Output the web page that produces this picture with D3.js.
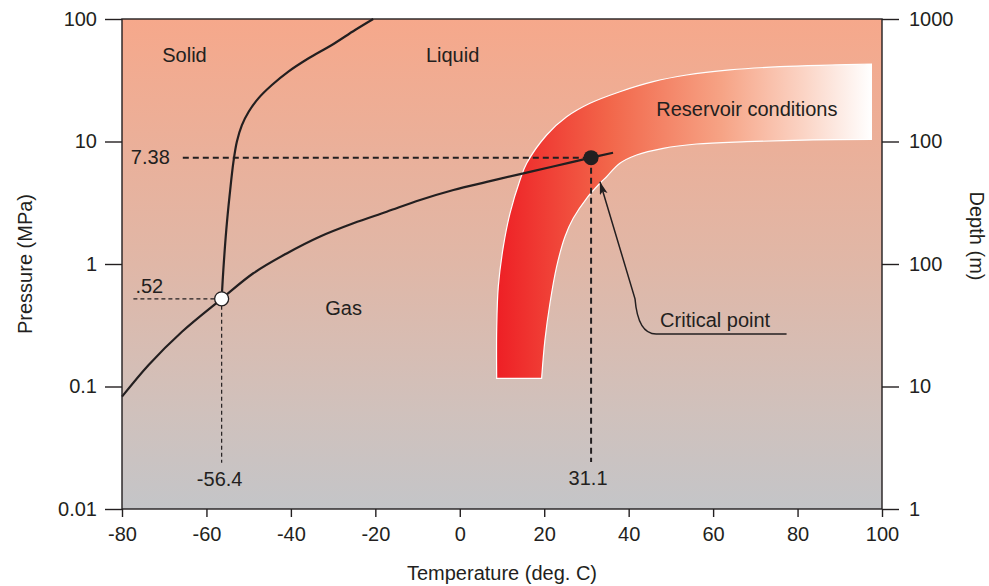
<!DOCTYPE html>
<html>
<head>
<meta charset="utf-8">
<script src="https://cdn.jsdelivr.net/npm/d3@7"></script>
<style>
  body { margin: 0; background: #fff; }
  text { font-family: "Liberation Sans", Arial, Helvetica, sans-serif; fill: #231f20; }
</style>
</head>
<body>
<svg id="chart" width="989" height="586"></svg>
<script>
// ---- data (temperature °C, pressure MPa) ----
const tempTicks = [-80, -60, -40, -20, 0, 20, 40, 60, 80, 100];
const pressureTicks = [0.01, 0.1, 1, 10, 100];
const pressureLabels = ['0.01', '0.1', '1', '10', '100'];
const depthLabels = ['1', '10', '100', '100', '1000'];

// solid/gas + liquid/gas boundary
const vaporCurve = [
  [-80, 0.0826], [-73.7, 0.150], [-65.8, 0.28], [-56.4, 0.52],
  [-48.9, 0.84], [-41.0, 1.22], [-33.2, 1.67], [-25.2, 2.15], [-17.3, 2.67],
  [-9.4, 3.33], [-1.5, 4.02], [6.4, 4.68], [14.3, 5.42], [22.1, 6.25],
  [31.1, 7.38], [36.3, 8.1]
];

// solid/liquid boundary
const meltingCurve = [
  [-56.4, 0.52], [-56.0, 0.893], [-55.3, 1.9], [-54.5, 3.66], [-53.6, 6.84],
  [-52.8, 9.96], [-51.6, 13.6], [-50.0, 17.5], [-47.7, 22.5], [-44.5, 28.9],
  [-40.6, 37.2], [-35.8, 47.8], [-30.3, 61.4], [-24.8, 81.3], [-20.5, 100]
];

// reservoir band: outer edge (bottom -> right), inner edge (right -> bottom)
const reservoirOuter = [
  [8.74, 0.1167], [8.74, 0.289], [9.12, 0.653], [10.31, 1.384], [11.89, 2.59],
  [14.26, 4.85], [15.85, 6.64], [20.58, 11.3], [25.31, 15.9], [30.83, 20.5],
  [37.92, 25.5], [45.8, 30.8], [53.71, 34.9], [63.95, 38.4], [75.79, 40.8],
  [87.62, 42.1], [97.49, 42.9]
];
const reservoirInner = [
  [97.49, 10.4], [83.67, 10.3], [67.91, 9.96], [56.08, 9.54], [48.17, 8.8],
  [41.88, 7.76], [37.92, 6.64], [34.78, 5.16], [33.19, 4.56], [30.05, 3.44],
  [26.87, 2.36], [24.91, 1.67], [22.94, 0.951], [21.36, 0.478], [20.17, 0.24],
  [19.39, 0.1167]
];

const triplePoint = { t: -56.4, p: 0.52, tLabel: '-56.4', pLabel: '.52' };
const criticalPoint = { t: 31.1, p: 7.38, tLabel: '31.1', pLabel: '7.38' };

const regionLabels = [
  { text: 'Solid', t: -65.2, p: 44.6 },
  { text: 'Liquid', t: -1.7, p: 44.6 },
  { text: 'Gas', t: -27.5, p: 0.384 },
  { text: 'Reservoir conditions', t: 68.0, p: 16.1 }
];

// leader from "Critical point" label to the arrow tip
const leader = {
  start: [77.4, 0.268], bendStart: [46.5, 0.268], corner: [42.2, 0.268],
  bendEnd: [41.5, 0.52], tip: [33.2, 4.7], label: 'Critical point'
};

// ---- scales ----
const svg = d3.select('#chart');
const plotLeft = 122, plotRight = 882, plotTop = 19, plotBottom = 509;
const ink = '#231f20';

const x = d3.scaleLinear().domain([-80, 100]).range([plotLeft, plotRight]);
const y = d3.scaleLog().domain([0.01, 100]).range([plotBottom, plotTop]);

const defs = svg.append('defs');

const bg = defs.append('linearGradient')
  .attr('id', 'bg-grad')
  .attr('x1', 0).attr('y1', 0).attr('x2', 0).attr('y2', 1);
bg.append('stop').attr('offset', 0).attr('stop-color', '#f6a88b');
bg.append('stop').attr('offset', 0.5).attr('stop-color', '#e0b7a7');
bg.append('stop').attr('offset', 0.8).attr('stop-color', '#d0c1bc');
bg.append('stop').attr('offset', 1).attr('stop-color', '#c4c5c8');

const band = defs.append('linearGradient')
  .attr('id', 'band-grad')
  .attr('gradientUnits', 'userSpaceOnUse')
  .attr('x1', x(8.74)).attr('y1', 0)
  .attr('x2', x(97.49)).attr('y2', 0);
band.append('stop').attr('offset', 0).attr('stop-color', '#ee1f25');
band.append('stop').attr('offset', 0.3).attr('stop-color', '#f2664a');
band.append('stop').attr('offset', 0.6).attr('stop-color', '#f6a385');
band.append('stop').attr('offset', 0.82).attr('stop-color', '#fbd4c5');
band.append('stop').attr('offset', 1).attr('stop-color', '#ffffff');

defs.append('marker')
  .attr('id', 'arrow')
  .attr('markerUnits', 'userSpaceOnUse')
  .attr('markerWidth', 14).attr('markerHeight', 10)
  .attr('refX', 13).attr('refY', 4)
  .attr('orient', 'auto')
  .append('path')
  .attr('d', 'M0,0 L13,4 L0,8 L3,4 Z')
  .attr('fill', ink);

// background
svg.append('rect')
  .attr('x', plotLeft).attr('y', plotTop)
  .attr('width', plotRight - plotLeft).attr('height', plotBottom - plotTop)
  .attr('fill', 'url(#bg-grad)');

// reservoir band
const curveLine = d3.line()
  .x((d) => x(d[0]))
  .y((d) => y(d[1]))
  .curve(d3.curveCatmullRom.alpha(0.5));

const outerPath = curveLine(reservoirOuter);
const innerPath = curveLine(reservoirInner);
svg.append('path')
  .attr('d', outerPath + 'L' + innerPath.slice(1) + 'Z')
  .attr('fill', 'url(#band-grad)')
  .attr('stroke', '#fff')
  .attr('stroke-width', 1.2);

// dashed guide lines
function dashed(points, width, dash) {
  svg.append('path')
    .attr('d', d3.line().x((d) => x(d[0])).y((d) => y(d[1]))(points))
    .attr('fill', 'none')
    .attr('stroke', ink)
    .attr('stroke-width', width)
    .attr('stroke-dasharray', dash);
}
dashed([[-65.6, criticalPoint.p], [criticalPoint.t, criticalPoint.p]], 2, '6,4');
dashed([[criticalPoint.t, criticalPoint.p], [criticalPoint.t, 0.0242]], 2, '6,4');
dashed([[-77.3, triplePoint.p], [triplePoint.t, triplePoint.p]], 1.2, '4,3');
dashed([[triplePoint.t, triplePoint.p], [triplePoint.t, 0.0238]], 1.2, '4,3');

// phase boundaries
[vaporCurve, meltingCurve].forEach((c) => {
  svg.append('path')
    .attr('d', curveLine(c))
    .attr('fill', 'none')
    .attr('stroke', ink)
    .attr('stroke-width', 2.2);
});

// points
svg.append('circle')
  .attr('cx', x(triplePoint.t)).attr('cy', y(triplePoint.p))
  .attr('r', 7)
  .attr('fill', '#fff').attr('stroke', ink).attr('stroke-width', 1.3);
svg.append('circle')
  .attr('cx', x(criticalPoint.t)).attr('cy', y(criticalPoint.p))
  .attr('r', 7.5)
  .attr('fill', ink);

// point labels
const fs = 20;
svg.append('text')
  .attr('x', x(-65.6) - 13).attr('y', y(criticalPoint.p) + 6)
  .attr('text-anchor', 'end').attr('font-size', fs)
  .text(criticalPoint.pLabel);
svg.append('text')
  .attr('x', x(-77.3) + 2).attr('y', y(triplePoint.p) - 6)
  .attr('font-size', fs)
  .text(triplePoint.pLabel);
svg.append('text')
  .attr('x', x(triplePoint.t) - 2).attr('y', y(0.0238) + 23)
  .attr('text-anchor', 'middle').attr('font-size', fs)
  .text(triplePoint.tLabel);
svg.append('text')
  .attr('x', x(criticalPoint.t) - 3).attr('y', y(0.0242) + 23)
  .attr('text-anchor', 'middle').attr('font-size', fs)
  .text(criticalPoint.tLabel);

// region labels
svg.selectAll('.region')
  .data(regionLabels)
  .join('text')
  .attr('class', 'region')
  .attr('x', (d) => x(d.t)).attr('y', (d) => y(d.p))
  .attr('text-anchor', 'middle').attr('font-size', fs)
  .text((d) => d.text);

// critical point leader
const P = (d) => [x(d[0]), y(d[1])];
const [s0, s1, c0, s2, tip] = [leader.start, leader.bendStart, leader.corner, leader.bendEnd, leader.tip].map(P);
svg.append('path')
  .attr('d', `M${s0}L${s1}Q${c0} ${s2}L${tip}`)
  .attr('fill', 'none')
  .attr('stroke', ink)
  .attr('stroke-width', 1.5)
  .attr('marker-end', 'url(#arrow)');
svg.append('text')
  .attr('x', x(leader.bendStart[0]) + 4).attr('y', y(leader.start[1]) - 7)
  .attr('font-size', fs)
  .text(leader.label);

// axes
function styleAxis(g) {
  g.select('.domain').remove();
  g.selectAll('.tick line').attr('stroke', ink).attr('stroke-width', 1.4);
  g.selectAll('.tick text').attr('font-size', fs).attr('fill', ink)
    .attr('font-family', '"Liberation Sans", Arial, Helvetica, sans-serif');
}

svg.append('g')
  .attr('transform', `translate(${plotLeft},0)`)
  .call(d3.axisLeft(y).tickValues(pressureTicks).tickSize(17).tickPadding(8)
    .tickFormat((d, i) => pressureLabels[i]))
  .call(styleAxis);

svg.append('g')
  .attr('transform', `translate(${plotRight},0)`)
  .call(d3.axisRight(y).tickValues(pressureTicks).tickSize(17).tickPadding(10)
    .tickFormat((d, i) => depthLabels[i]))
  .call(styleAxis);

svg.append('g')
  .attr('transform', `translate(0,${plotBottom})`)
  .call(d3.axisBottom(x).tickValues(tempTicks).tickSize(8).tickPadding(10)
    .tickFormat((d) => String(d)))
  .call(styleAxis);

// plot frame
svg.append('rect')
  .attr('x', plotLeft).attr('y', plotTop)
  .attr('width', plotRight - plotLeft).attr('height', plotBottom - plotTop)
  .attr('fill', 'none').attr('stroke', ink).attr('stroke-width', 1.4);

// axis titles
svg.append('text')
  .attr('x', (plotLeft + plotRight) / 2).attr('y', 580)
  .attr('text-anchor', 'middle').attr('font-size', fs)
  .text('Temperature (deg. C)');
svg.append('text')
  .attr('transform', `translate(32,${(plotTop + plotBottom) / 2}) rotate(-90)`)
  .attr('text-anchor', 'middle').attr('font-size', fs)
  .text('Pressure (MPa)');
svg.append('text')
  .attr('transform', `translate(970,${(plotTop + plotBottom) / 2 - 28}) rotate(90)`)
  .attr('text-anchor', 'middle').attr('font-size', fs)
  .text('Depth (m)');
</script>
</body>
</html>
